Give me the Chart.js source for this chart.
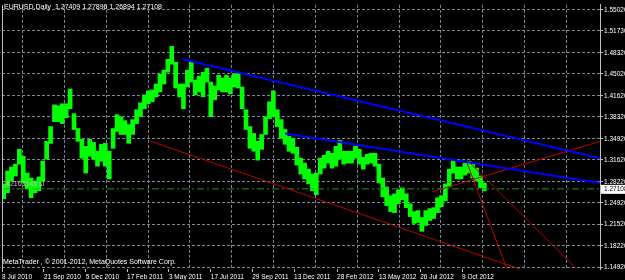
<!DOCTYPE html>
<html>
<head>
<meta charset="utf-8">
<script src="https://cdn.jsdelivr.net/npm/chart.js@4"></script>
<style>
html, body { margin: 0; padding: 0; background: #000; }
#wrap { position: relative; width: 625px; height: 280px; overflow: hidden; }
canvas { display: block; }
.txt { position: absolute; color: #fff; font: 7px "Liberation Sans", Arial, sans-serif; white-space: pre; }
</style>
</head>
<body>
<div id="wrap">
  <canvas id="chart" width="625" height="280"></canvas>
  <div class="txt" style="left:4px; top:3px;">EURUSD,Daily  1.27409 1.27896 1.26894 1.27108</div>
  <div class="txt" style="left:3px; top:258px;">MetaTrader , © 2001-2012, MetaQuotes Software Corp.</div>
</div>
<script>
// weekly high / low of EURUSD, first week starts 8 Jul 2010
const highs = [
  1.2788, 1.2988, 1.3050, 1.3096, 1.3327, 1.3219, 1.2957, 1.2880, 1.2834, 1.2896,
  1.3142, 1.3451, 1.3682, 1.4021, 1.4006, 1.4037, 1.4037, 1.4268, 1.3883, 1.3651,
  1.3482, 1.3374, 1.3482, 1.3435, 1.3297, 1.3405, 1.3420, 1.3297, 1.3651, 1.3867,
  1.3836, 1.3775, 1.3713, 1.3790, 1.3944, 1.4052, 1.4176, 1.4237, 1.4253, 1.4345,
  1.4500, 1.4561, 1.4731, 1.4931, 1.4685, 1.4345, 1.4345, 1.4561, 1.4685, 1.4407,
  1.4469, 1.4530, 1.4592, 1.4376, 1.4315, 1.4484, 1.4438, 1.4484, 1.4438, 1.4500,
  1.4530, 1.4299, 1.3944, 1.3682, 1.3574, 1.3451, 1.3559, 1.3836, 1.4068, 1.4237,
  1.3944, 1.3790, 1.3636, 1.3528, 1.3497, 1.3358, 1.3189, 1.3112, 1.3019, 1.2942,
  1.2957, 1.3189, 1.3235, 1.3297, 1.3266, 1.3374, 1.3466, 1.3297, 1.3297, 1.3297,
  1.3374, 1.3327, 1.3204, 1.3250, 1.3266, 1.3266, 1.3096, 1.2880, 1.2741, 1.2603,
  1.2633, 1.2695, 1.2726, 1.2633, 1.2479, 1.2356, 1.2371, 1.2263, 1.2371, 1.2402,
  1.2417, 1.2572, 1.2603, 1.2788, 1.3019, 1.3158, 1.3050, 1.3050, 1.3112, 1.3142,
  1.3096, 1.3034, 1.2911, 1.2803
];
const lows = [
  1.2556, 1.2649, 1.2834, 1.2911, 1.3096, 1.2803, 1.2711, 1.2572, 1.2649, 1.2680,
  1.2834, 1.3173, 1.3420, 1.3759, 1.3759, 1.3728, 1.3821, 1.3960, 1.3636, 1.3451,
  1.3189, 1.2957, 1.3219, 1.3173, 1.3065, 1.3142, 1.3065, 1.2865, 1.3343, 1.3605,
  1.3559, 1.3559, 1.3420, 1.3559, 1.3728, 1.3836, 1.3960, 1.4037, 1.4068, 1.4145,
  1.4222, 1.4345, 1.4530, 1.4654, 1.4284, 1.4145, 1.3960, 1.4299, 1.4376, 1.4176,
  1.4222, 1.4145, 1.4376, 1.3836, 1.4099, 1.4253, 1.4222, 1.4222, 1.4191, 1.4299,
  1.4284, 1.3960, 1.3636, 1.3343, 1.3297, 1.3158, 1.3327, 1.3559, 1.3806, 1.3836,
  1.3682, 1.3497, 1.3405, 1.3297, 1.3266, 1.3081, 1.2942, 1.2865, 1.2788, 1.2680,
  1.2618, 1.2942, 1.3034, 1.3112, 1.3034, 1.3065, 1.3173, 1.3096, 1.3112, 1.3112,
  1.3189, 1.3096, 1.3019, 1.3096, 1.3112, 1.3065, 1.2803, 1.2587, 1.2448, 1.2356,
  1.2340, 1.2479, 1.2541, 1.2417, 1.2279, 1.2171, 1.2186, 1.2047, 1.2140, 1.2217,
  1.2248, 1.2340, 1.2433, 1.2525, 1.2741, 1.2957, 1.2865, 1.2865, 1.2926, 1.2957,
  1.2880, 1.2834, 1.2726, 1.2680
];

// time axis: days counted from 8 Jul 2010
const dateLabels = ['8 Jul 2010', '21 Sep 2010', '5 Dec 2010', '17 Feb 2011', '3 May 2011', '17 Jul 2011',
  '29 Sep 2011', '13 Dec 2011', '28 Feb 2012', '13 May 2012', '26 Jul 2012', '9 Oct 2012'];
const dateDays = [0, 75, 150, 224, 299, 374, 448, 523, 600, 675, 749, 824];
const gridDays = [37, 112, 187, 262, 336, 411, 486, 561, 637, 712, 786, 861, 936, 1011];
const priceTicks = [1.5502, 1.5173, 1.4832, 1.4502, 1.4162, 1.3832, 1.3492, 1.3162,
  1.2822, 1.2492, 1.2152, 1.1822, 1.1492];
const lastPrice = 1.27108;

// trend lines [day, price] pairs
const blueLines = [
  [[324, 1.4731], [1071, 1.3189]],
  [[507, 1.3574], [1071, 1.2803]]
];
const redLines = [
  [[267, 1.3451], [1000, 1.1240]],
  [[770, 1.2664], [1071, 1.3451]],
  [[833, 1.3112], [920, 1.1100]],
  [[835, 1.3142], [1071, 1.1100]]
];

const gridColor = '#778899';

const priceBars = highs.map((h, i) => ({ x: i * 7 + 3, y: [lows[i], h] }));

const lineSet = (pts, color, width) => ({
  type: 'line',
  data: pts.map(p => ({ x: p[0], y: p[1] })),
  borderColor: color,
  borderWidth: width,
  pointRadius: 0,
  order: 0
});

const datasets = [
  {
    type: 'bar',
    data: priceBars,
    backgroundColor: '#00ff00',
    barThickness: 4,
    grouped: false,
    order: 10
  },
  {
    type: 'line',
    data: [{ x: 0, y: lastPrice }, { x: 1071, y: lastPrice }],
    borderColor: '#1a9a1a',
    borderWidth: 1,
    borderDash: [7, 3, 2, 3],
    pointRadius: 0,
    order: 5
  }
];
blueLines.forEach(l => datasets.push(lineSet(l, '#0000ff', 2)));
redLines.forEach(l => datasets.push(lineSet(l, '#c00000', 1)));

const extras = {
  id: 'extras',
  afterDatasetsDraw(chart) {
    const { ctx, chartArea, scales } = chart;
    ctx.save();
    // left frame
    ctx.strokeStyle = '#c0c0c0';
    ctx.lineWidth = 1;
    ctx.beginPath();
    ctx.moveTo(chartArea.left + 0.5, chartArea.top);
    ctx.lineTo(chartArea.left + 0.5, chartArea.bottom);
    ctx.stroke();
    // order label
    const yl = scales.y.getPixelForValue(lastPrice);
    ctx.font = '7px "Liberation Sans", Arial, sans-serif';
    ctx.fillStyle = '#c0c0c0';
    ctx.textBaseline = 'bottom';
    ctx.fillText('#2163145 sl', chartArea.left + 4, yl - 1);
    ctx.restore();
  },
  afterDraw(chart) {
    const { ctx, chartArea, scales } = chart;
    const yl = scales.y.getPixelForValue(lastPrice);
    ctx.save();
    ctx.fillStyle = '#ffffff';
    ctx.fillRect(chartArea.right + 1, yl - 4, 25, 9);
    ctx.fillStyle = '#000000';
    ctx.font = '6.5px "Liberation Sans", Arial, sans-serif';
    ctx.textBaseline = 'middle';
    ctx.fillText(lastPrice.toFixed(5), chartArea.right + 4, yl + 0.5);
    ctx.restore();
  }
};

new Chart(document.getElementById('chart'), {
  data: { datasets },
  options: {
    responsive: false,
    animation: false,
    layout: { padding: { left: 2, top: 2, right: 0, bottom: 0 } },
    plugins: { legend: { display: false }, tooltip: { enabled: false } },
    scales: {
      x: {
        type: 'linear',
        position: 'bottom',
        offset: false,
        min: 0,
        max: 1071,
        afterBuildTicks: s => { s.ticks = dateDays.map(v => ({ value: v })); },
        afterFit: s => { s.height = 11; },
        ticks: {
          callback: (v, i) => dateLabels[i],
          align: 'start',
          autoSkip: false,
          maxRotation: 0,
          color: '#ffffff',
          padding: 1,
          font: { family: 'Liberation Sans', size: 6.5 }
        },
        grid: { drawOnChartArea: false, drawTicks: true, tickLength: 3, color: '#c0c0c0', offset: false },
        border: { display: false }
      },
      xg: {
        type: 'linear',
        position: 'bottom',
        offset: false,
        min: 0,
        max: 1071,
        afterBuildTicks: s => { s.ticks = gridDays.map(v => ({ value: v })); },
        afterFit: s => { s.height = 0; },
        ticks: { display: false },
        grid: { color: gridColor, drawTicks: false, offset: false },
        border: { display: false, dash: [3, 2] }
      },
      y: {
        type: 'linear',
        position: 'right',
        min: 1.1461,
        max: 1.5579,
        afterBuildTicks: s => { s.ticks = priceTicks.map(v => ({ value: v })); },
        afterFit: s => { s.width = 25; },
        ticks: {
          callback: v => v.toFixed(5),
          color: '#ffffff',
          padding: 1,
          font: { family: 'Liberation Sans', size: 6.5 }
        },
        grid: { color: gridColor, tickLength: 3, tickColor: '#c0c0c0' },
        border: { display: true, color: '#c0c0c0', dash: [3, 2] }
      }
    }
  },
  plugins: [extras]
});
</script>
</body>
</html>
